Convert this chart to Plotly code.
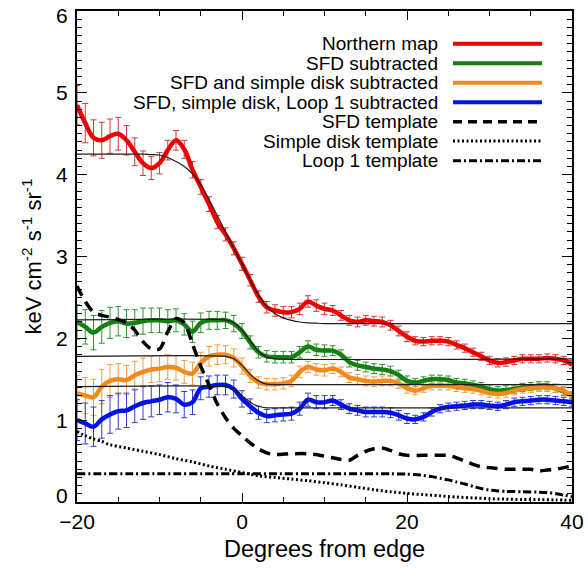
import plotly.graph_objects as go

# ---------------- data ----------------
deg = [-20, -19, -18, -17, -16, -15, -14, -13, -12, -11, -10, -9, -8, -7, -6, -5, -4, -3, -2, -1, 0,
       1, 2, 3, 4, 5, 6, 7, 8, 9, 10, 11, 12, 13, 14, 15, 16, 17, 18, 19, 20,
       21, 22, 23, 24, 25, 26, 27, 28, 29, 30, 31, 32, 33, 34, 35, 36, 37, 38, 39, 40]

northern = [4.85, 4.63, 4.45, 4.42, 4.47, 4.50, 4.42, 4.28, 4.14, 4.08, 4.14, 4.30, 4.42, 4.31, 4.06, 3.85, 3.64, 3.42, 3.27, 3.10, 2.91,
            2.71, 2.51, 2.38, 2.34, 2.32, 2.32, 2.36, 2.45, 2.40, 2.36, 2.34, 2.28, 2.22, 2.20, 2.22, 2.21, 2.20, 2.16, 2.09, 2.02,
            1.97, 1.96, 1.97, 1.97, 1.96, 1.92, 1.88, 1.83, 1.78, 1.73, 1.70, 1.71, 1.73, 1.75, 1.75, 1.75, 1.76, 1.75, 1.73, 1.68]
northern_err = [0.24, 0.24, 0.22, 0.22, 0.21, 0.20, 0.18, 0.17, 0.15, 0.14, 0.13, 0.12, 0.12, 0.11, 0.10, 0.09, 0.09, 0.08, 0.08, 0.08, 0.08,
                0.07, 0.07, 0.07, 0.07, 0.07, 0.07, 0.07, 0.07, 0.07, 0.07, 0.06, 0.06, 0.06, 0.06, 0.06, 0.06, 0.06, 0.06, 0.06, 0.06,
                0.05, 0.05, 0.05, 0.05, 0.05, 0.05, 0.05, 0.05, 0.05, 0.05, 0.05, 0.05, 0.05, 0.05, 0.05, 0.05, 0.05, 0.05, 0.05, 0.05]

sfd_sub = [2.20, 2.14, 2.07, 2.14, 2.19, 2.21, 2.18, 2.19, 2.21, 2.22, 2.22, 2.21, 2.22, 2.17, 2.08, 2.19, 2.22, 2.22, 2.22, 2.18, 2.09,
           1.95, 1.83, 1.78, 1.77, 1.77, 1.77, 1.83, 1.90, 1.86, 1.85, 1.85, 1.80, 1.71, 1.67, 1.65, 1.63, 1.62, 1.60, 1.55, 1.48,
           1.46, 1.48, 1.50, 1.50, 1.49, 1.46, 1.45, 1.43, 1.41, 1.38, 1.36, 1.37, 1.38, 1.40, 1.41, 1.42, 1.42, 1.39, 1.35, 1.30]
sfd_sub_err = [0.21, 0.21, 0.21, 0.20, 0.19, 0.18, 0.17, 0.16, 0.16, 0.15, 0.15, 0.14, 0.14, 0.13, 0.13, 0.12, 0.11, 0.11, 0.10, 0.10, 0.09,
               0.08, 0.07, 0.07, 0.07, 0.07, 0.07, 0.07, 0.07, 0.07, 0.07, 0.06, 0.06, 0.06, 0.06, 0.06, 0.06, 0.06, 0.06, 0.06, 0.06,
               0.05, 0.05, 0.05, 0.05, 0.05, 0.05, 0.05, 0.05, 0.05, 0.05, 0.05, 0.05, 0.05, 0.05, 0.05, 0.05, 0.05, 0.05, 0.05, 0.05]

disk_sub = [1.33, 1.30, 1.28, 1.41, 1.48, 1.50, 1.49, 1.55, 1.59, 1.62, 1.63, 1.65, 1.64, 1.59, 1.57, 1.70, 1.78, 1.80, 1.80, 1.76, 1.66,
            1.54, 1.46, 1.44, 1.44, 1.45, 1.48, 1.59, 1.65, 1.62, 1.61, 1.63, 1.59, 1.52, 1.50, 1.48, 1.47, 1.48, 1.48, 1.45, 1.39,
            1.36, 1.39, 1.42, 1.42, 1.42, 1.40, 1.39, 1.38, 1.36, 1.33, 1.32, 1.33, 1.36, 1.38, 1.39, 1.40, 1.40, 1.39, 1.36, 1.30]
disk_sub_err = [0.22, 0.22, 0.22, 0.21, 0.20, 0.19, 0.18, 0.17, 0.17, 0.16, 0.16, 0.15, 0.15, 0.14, 0.14, 0.13, 0.12, 0.12, 0.11, 0.11, 0.10,
                0.08, 0.07, 0.07, 0.07, 0.07, 0.07, 0.07, 0.07, 0.07, 0.07, 0.06, 0.06, 0.06, 0.06, 0.06, 0.06, 0.06, 0.06, 0.06, 0.06,
                0.05, 0.05, 0.05, 0.05, 0.05, 0.05, 0.05, 0.05, 0.05, 0.05, 0.05, 0.05, 0.05, 0.05, 0.05, 0.05, 0.05, 0.05, 0.05, 0.05]

loop_sub = [1.00, 0.96, 0.92, 1.01, 1.07, 1.11, 1.12, 1.17, 1.21, 1.23, 1.25, 1.28, 1.26, 1.19, 1.22, 1.39, 1.41, 1.43, 1.43, 1.38, 1.26,
            1.17, 1.09, 1.05, 1.06, 1.07, 1.08, 1.14, 1.25, 1.22, 1.22, 1.24, 1.19, 1.14, 1.12, 1.10, 1.10, 1.10, 1.09, 1.06, 1.02,
            1.01, 1.04, 1.10, 1.14, 1.16, 1.17, 1.18, 1.19, 1.19, 1.18, 1.17, 1.19, 1.22, 1.23, 1.24, 1.25, 1.25, 1.24, 1.23, 1.22]
loop_sub_err = [0.25, 0.25, 0.24, 0.23, 0.23, 0.22, 0.21, 0.20, 0.20, 0.19, 0.18, 0.18, 0.17, 0.16, 0.15, 0.14, 0.13, 0.12, 0.12, 0.11, 0.10,
                0.09, 0.08, 0.08, 0.08, 0.08, 0.08, 0.08, 0.08, 0.08, 0.08, 0.06, 0.06, 0.06, 0.06, 0.06, 0.06, 0.06, 0.06, 0.06, 0.06,
                0.05, 0.05, 0.05, 0.05, 0.05, 0.05, 0.05, 0.05, 0.05, 0.05, 0.05, 0.05, 0.05, 0.05, 0.05, 0.05, 0.05, 0.05, 0.05, 0.05]

# fitted step models (thin black lines)
north_model_x = [-20, -12, -11, -10, -9, -8, -7, -6, -5, -4, -3, -2, -1, 0, 1, 2, 3, 4, 5, 6, 7, 8, 9, 10, 40]
north_model_y = [4.25, 4.25, 4.245, 4.24, 4.21, 4.16, 4.10, 4.01, 3.88, 3.70, 3.50, 3.30, 3.10, 2.91, 2.71, 2.53, 2.39, 2.30, 2.25, 2.22, 2.20, 2.19, 2.185, 2.18, 2.18]
step_model_x = [-20, -2, -1, 0, 1, 2, 3, 4, 40]
sfd_model_y = [2.225, 2.225, 2.19, 2.10, 1.97, 1.84, 1.77, 1.75, 1.75]
disk_model_y = [1.78, 1.78, 1.75, 1.67, 1.56, 1.48, 1.44, 1.435, 1.435]
loop_model_y = [1.41, 1.41, 1.38, 1.30, 1.22, 1.17, 1.15, 1.15, 1.15]

# templates
sfd_tpl_x = [-20, -19, -18, -17, -16, -15, -14, -13, -12, -11, -10, -9, -8, -7, -6, -5, -4, -3, -2, -1, 0, 1, 2, 3, 4, 6, 8, 9, 10,
             11, 12, 13, 14, 15, 16, 17, 18, 19, 20, 22, 24, 25, 26, 27, 28, 29, 30, 32, 34, 35, 36, 37, 38, 39, 40]
sfd_tpl_y = [2.64, 2.45, 2.32, 2.28, 2.26, 2.23, 2.19, 2.10, 1.96, 1.87, 1.87, 2.08, 2.24, 2.19, 1.93, 1.66, 1.43, 1.20, 1.03, 0.90, 0.81,
             0.72, 0.65, 0.60, 0.58, 0.59, 0.59, 0.58, 0.56, 0.54, 0.52, 0.51, 0.57, 0.62, 0.65, 0.66, 0.63, 0.59, 0.57, 0.57, 0.57,
             0.57, 0.54, 0.50, 0.46, 0.43, 0.42, 0.40, 0.40, 0.40, 0.38, 0.39, 0.40, 0.42, 0.44]
disk_tpl_x = [-20, -19, -18, -17, -16, -14, -12, -10, -8, -6, -4, -2, 0, 2, 4, 6, 8, 10, 12, 14, 16, 18, 20,
              22, 24, 26, 28, 30, 32, 34, 36, 38, 40]
disk_tpl_y = [0.86, 0.81, 0.77, 0.74, 0.70, 0.66, 0.62, 0.58, 0.53, 0.49, 0.44, 0.40, 0.36, 0.32, 0.30, 0.28, 0.26, 0.235, 0.21,
              0.18, 0.15, 0.125, 0.105, 0.09, 0.075, 0.06, 0.05, 0.04, 0.035, 0.03, 0.03, 0.025, 0.02]
loop_tpl_x = [-20, 0, 18, 20, 21, 22, 23, 24, 25, 26, 27, 28, 29, 30, 31, 32, 34, 36, 37, 38, 39, 40]
loop_tpl_y = [0.345, 0.345, 0.345, 0.34, 0.335, 0.325, 0.31, 0.29, 0.27, 0.245, 0.22, 0.19, 0.165, 0.145, 0.135, 0.13, 0.125,
              0.12, 0.115, 0.105, 0.085, 0.065]

legend_labels = ["Northern map", "SFD subtracted", "SFD and simple disk subtracted",
                 "SFD, simple disk, Loop 1 subtracted", "SFD template", "Simple disk template", "Loop 1 template"]

y_tick_values = [0, 1, 2, 3, 4, 5, 6]
y_tick_labels = ["0", "1", "2", "3", "4", "5", "6"]

# ---------------- styling ----------------
FONT = "Liberation Sans, Arial, Helvetica, sans-serif"
RED, GREEN, ORANGE, BLUE = "rgb(236,0,0)", "rgb(18,128,18)", "rgb(242,138,28)", "rgb(0,18,232)"
RED_E, GREEN_E, ORANGE_E, BLUE_E = "rgb(215,55,55)", "rgb(50,150,50)", "rgb(240,160,70)", "rgb(50,60,215)"

fig = go.Figure()

series = [
    (northern, northern_err, RED, RED_E),
    (sfd_sub, sfd_sub_err, GREEN, GREEN_E),
    (disk_sub, disk_sub_err, ORANGE, ORANGE_E),
    (loop_sub, loop_sub_err, BLUE, BLUE_E),
]

# error bars first (under the thick lines)
for vals, errs, col, ecol in series:
    fig.add_trace(go.Scatter(x=deg, y=vals, mode="markers",
                             marker=dict(size=1, color="rgba(0,0,0,0)"),
                             error_y=dict(type="data", array=errs, visible=True,
                                          color=ecol, thickness=1, width=3),
                             showlegend=False, hoverinfo="skip"))

for vals, errs, col, ecol in series:
    fig.add_trace(go.Scatter(x=deg, y=vals, mode="lines",
                             line=dict(color=col, width=4.5, shape="spline", smoothing=1),
                             showlegend=False))

# models
fig.add_trace(go.Scatter(x=north_model_x, y=north_model_y, mode="lines",
                         line=dict(color="rgb(30,30,30)", width=1.2, shape="spline", smoothing=0.5),
                         showlegend=False))
for my in (sfd_model_y, disk_model_y, loop_model_y):
    fig.add_trace(go.Scatter(x=step_model_x, y=my, mode="lines",
                             line=dict(color="rgb(30,30,30)", width=1.2, shape="spline", smoothing=0.5),
                             showlegend=False))

# templates
fig.add_trace(go.Scatter(x=sfd_tpl_x, y=sfd_tpl_y, mode="lines",
                         line=dict(color="black", width=3.5, dash="11px,7px", shape="spline", smoothing=0.8),
                         showlegend=False))
fig.add_trace(go.Scatter(x=disk_tpl_x, y=disk_tpl_y, mode="lines",
                         line=dict(color="black", width=3, dash="2px,2.5px", shape="spline", smoothing=0.8),
                         showlegend=False))
fig.add_trace(go.Scatter(x=loop_tpl_x, y=loop_tpl_y, mode="lines",
                         line=dict(color="black", width=3, dash="8px,3px,2px,3px", shape="spline", smoothing=0.6),
                         showlegend=False))

# ---------------- custom legend (text right-aligned, sample on the right) ----------------
legend_styles = [
    dict(color=RED, width=4, dash="solid"),
    dict(color=GREEN, width=4, dash="solid"),
    dict(color=ORANGE, width=4, dash="solid"),
    dict(color=BLUE, width=4, dash="solid"),
    dict(color="black", width=3.5, dash="9px,6px"),
    dict(color="black", width=3, dash="2px,2.5px"),
    dict(color="black", width=3, dash="8px,3px,2px,3px"),
]
row_y = [0.9333, 0.8934, 0.8541, 0.8141, 0.7745, 0.7350, 0.6948]
annotations = []
shapes = []
for lab, st, yy in zip(legend_labels, legend_styles, row_y):
    annotations.append(dict(xref="paper", yref="paper", x=0.7333, y=yy, xanchor="right", yanchor="middle",
                            text=lab, showarrow=False, font=dict(family=FONT, size=19, color="black")))
    shapes.append(dict(type="line", xref="paper", yref="paper", x0=0.7596, x1=0.9394, y0=yy, y1=yy,
                       line=st))

# y tick labels (edge labels sit slightly inside the frame, as in the reference)
y_label_pos = [0.08, 1, 2, 3, 4, 5, 5.94]
for lab, yp in zip(y_tick_labels, y_label_pos):
    annotations.append(dict(xref="paper", yref="y", x=-0.0141, y=yp, xanchor="right", yanchor="middle",
                            text=lab, showarrow=False, font=dict(family=FONT, size=21, color="black")))

# axis titles
annotations.append(dict(xref="paper", yref="paper", x=-0.0929, y=0.5, xanchor="center", yanchor="middle",
                        text="keV cm<sup>-2</sup> s<sup>-1</sup> sr<sup>-1</sup>", textangle=-90, showarrow=False,
                        font=dict(family=FONT, size=22, color="black")))
annotations.append(dict(xref="paper", yref="paper", x=0.5, y=-0.0948, xanchor="center", yanchor="middle",
                        text="Degrees from edge", showarrow=False,
                        font=dict(family=FONT, size=23.5, color="black")))

fig.update_layout(
    template="none",
    width=588, height=568,
    margin=dict(l=77, r=16, t=11, b=66, autoexpand=False),
    paper_bgcolor="white", plot_bgcolor="white",
    showlegend=False,
    annotations=annotations, shapes=shapes,
    font=dict(family=FONT, size=21, color="black"),
)
fig.update_xaxes(range=[-20, 40], tickvals=[-20, 0, 20, 40], ticks="inside", ticklen=9, tickwidth=1.2,
                 tickcolor="black", showline=True, linecolor="black", linewidth=1.5, mirror="ticks",
                 showgrid=False, zeroline=False, automargin=False,
                 minor=dict(dtick=5, ticks="inside", ticklen=5, tickwidth=1.2, tickcolor="black"),
                 tickfont=dict(family=FONT, size=21, color="black"))
fig.update_yaxes(range=[0, 6], tickvals=y_tick_values, showticklabels=False, ticks="inside", ticklen=10, tickwidth=1.2,
                 tickcolor="black", showline=True, linecolor="black", linewidth=1.5, mirror="ticks",
                 showgrid=False, zeroline=False, automargin=False,
                 minor=dict(dtick=0.1, ticks="inside", ticklen=5, tickwidth=1, tickcolor="black"))

fig.write_html("out.html")
